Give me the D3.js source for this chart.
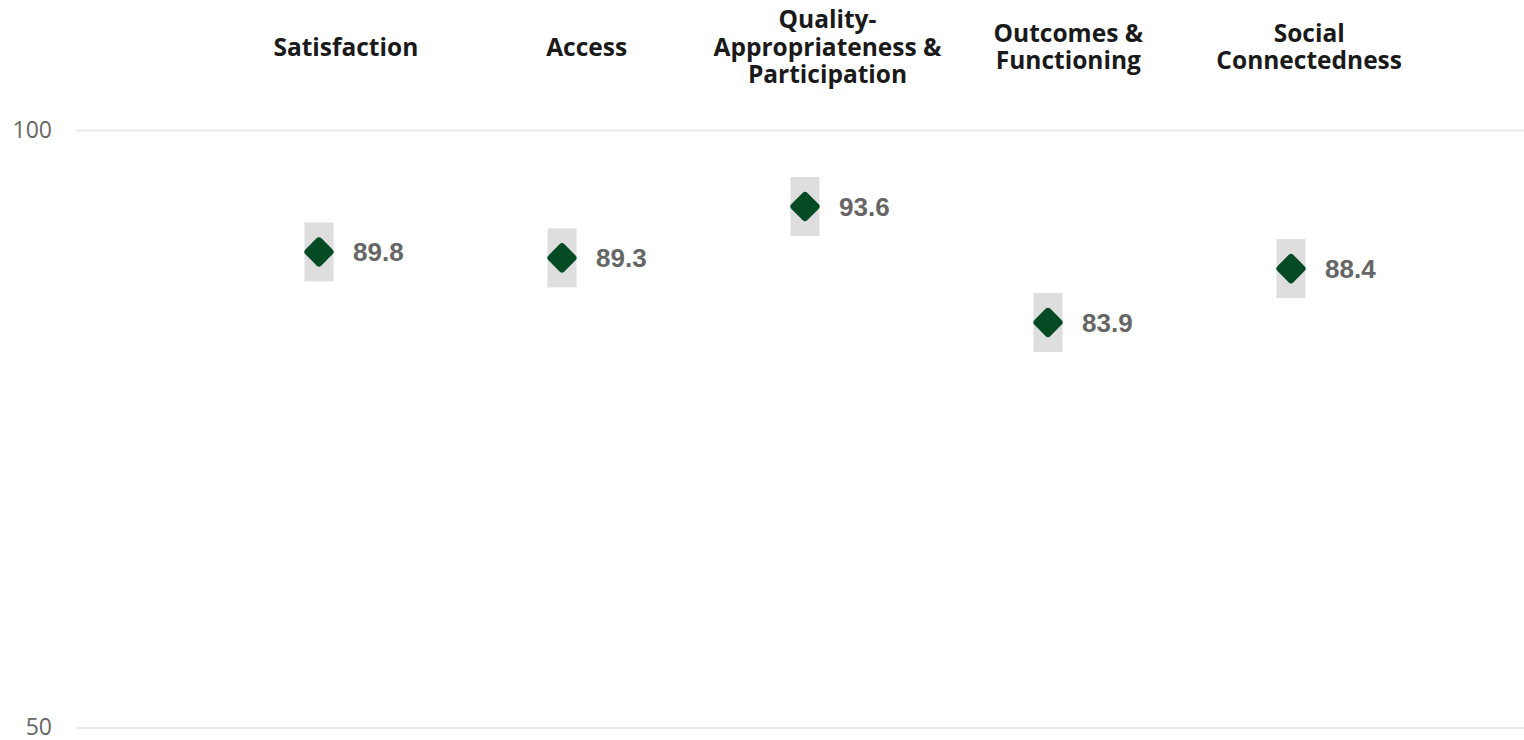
<!DOCTYPE html>
<html>
<head>
<meta charset="utf-8">
<script src="https://cdn.jsdelivr.net/npm/d3@7"></script>
<style>
  html, body { margin: 0; padding: 0; background: #ffffff; }
  svg { display: block; }
</style>
</head>
<body>
<svg id="chart" width="1524" height="740"></svg>
<script>
// Domain scores (percent positive) by survey domain
const categories = [
  "Satisfaction",
  "Access",
  "Quality-\nAppropriateness &\nParticipation",
  "Outcomes &\nFunctioning",
  "Social\nConnectedness"
];
const scores = [89.8, 89.3, 93.6, 83.9, 88.4];
const tickValues = [50, 100];

const width = 1524, height = 740;
const svg = d3.select("#chart");

// Marker positions
const x = d3.scalePoint()
  .domain(categories)
  .range([76, 1534])
  .padding(1);

// Header row sits slightly right of the markers
const xHeader = d3.scalePoint()
  .domain(categories)
  .range([105, 1550])
  .padding(1);

const y = d3.scaleLinear()
  .domain([50, 100])
  .range([727.5, 130]);

// Horizontal gridlines with value labels
const yAxis = d3.axisLeft(y)
  .tickValues(tickValues)
  .tickSize(-(width - 76))
  .tickFormat(d3.format("d"));

const gAxis = svg.append("g")
  .attr("transform", "translate(76,0)")
  .call(yAxis);
gAxis.select(".domain").remove();
gAxis.selectAll(".tick line")
  .attr("stroke", "#e9e9e9")
  .attr("stroke-width", 2);
gAxis.selectAll(".tick text")
  .attr("x", -24)
  .attr("fill", "#666666")
  .style("font-family", "'Open Sans', sans-serif")
  .style("font-size", "23px");

// Category headers, each block centred vertically on the same line
const lineHeight = 27.5;
const headerMid = 55.5;
const headers = svg.append("g")
  .selectAll("text")
  .data(categories)
  .join("text")
  .attr("x", d => xHeader(d))
  .attr("text-anchor", "middle")
  .attr("fill", "#1a1a1a")
  .style("font-family", "'Open Sans', sans-serif")
  .style("font-weight", "700")
  .style("font-size", "24.5px");
headers.each(function(d) {
  const lines = d.split("\n");
  const first = headerMid - (lines.length - 1) * lineHeight / 2;
  d3.select(this).selectAll("tspan")
    .data(lines)
    .join("tspan")
    .attr("x", xHeader(d))
    .attr("y", (l, i) => first + i * lineHeight)
    .text(l => l);
});

const points = categories.map((c, i) => ({ category: c, value: scores[i] }));

const marks = svg.append("g")
  .selectAll("g")
  .data(points)
  .join("g")
  .attr("transform", d => `translate(${x(d.category)},${y(d.value)})`);

// Grey backing box behind each marker
marks.append("rect")
  .attr("x", -14.5)
  .attr("y", -29.5)
  .attr("width", 29)
  .attr("height", 59)
  .attr("fill", "#dedede");

// Rounded diamond marker
const side = 32 / Math.SQRT2;
marks.append("rect")
  .attr("x", -side / 2)
  .attr("y", -side / 2)
  .attr("width", side)
  .attr("height", side)
  .attr("rx", 3.5)
  .attr("ry", 3.5)
  .attr("transform", "rotate(45)")
  .attr("fill", "#044b25");

// Value labels
marks.append("text")
  .attr("x", 34)
  .attr("y", 0)
  .attr("dy", "0.36em")
  .attr("fill", "#666666")
  .style("font-family", "'Liberation Sans', Arial, sans-serif")
  .style("font-weight", "700")
  .style("font-size", "26px")
  .text(d => d3.format(".1f")(d.value));
</script>
</body>
</html>
